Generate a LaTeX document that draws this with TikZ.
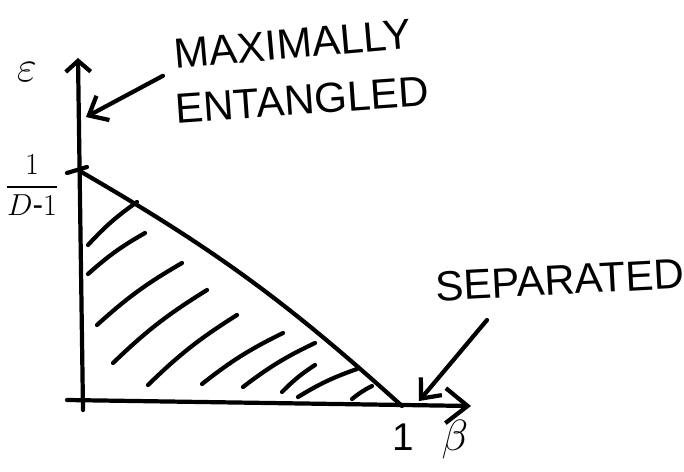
\documentclass[tikz,border=0pt]{standalone}
\usepackage{amsmath}
\usepackage{fontspec}
\setmainfont{Liberation Sans}
\usetikzlibrary{arrows.meta}

\tikzset{
  hand/.style={line width=2.4pt, line cap=round, line join=round},
  pointer/.style={hand, -{Straight Barb[length=3.2mm,width=5.5mm]}},
  caption/.style={font=\fontsize{24}{26}\selectfont, inner sep=0pt},
}

\begin{document}
\begin{tikzpicture}[x=0.02cm,y=-0.02cm]
\useasboundingbox (0,0) rectangle (684,471);

\coordinate (ybot) at (83,410);
\coordinate (ytop) at (78,58);
\coordinate (xleft) at (67,400);
\coordinate (xend) at (471,406);
\coordinate (peak) at (78,170);
\coordinate (one) at (402,406);

\draw[hand, -{Straight Barb[length=2.2mm,width=5mm]}] (ybot) -- (ytop);
\draw[hand, -{Straight Barb[length=4.4mm,width=7mm]}] (xleft) -- (xend);
\draw[hand] (67,173) -- (87,167);

\draw[hand] (peak) to[bend left=6] (one);

\foreach \xa/\ya/\xb/\yb in {88/245/137/202, 88/274/145/233, 97/325/182/263,
    113/363/207/290, 148/385/237/315, 202/384/283/333, 243/387/315/343,
    282/392/315/365, 298/397/357/369, 352/399/372/386}
  \draw[hand] (\xa,\ya) to[bend left=6] (\xb,\yb);

\node[font=\fontsize{30}{32}\selectfont] (eps) at (27,72) {$\varepsilon$};
\node[font=\fontsize{18}{20}\selectfont] (level) at (32,185) {$\dfrac{1}{D\text{-}1}$};
\node[font=\fontsize{22}{24}\selectfont] (onelab) at (403,437) {1};
\node[font=\fontsize{26}{28}\selectfont] (beta) at (455,440) {$\beta$};

\node[caption, rotate=5] (maxi) at (293,44) {MAXIMALLY};
\node[caption, rotate=4] (entl) at (302,100) {ENTANGLED};
\node[caption, rotate=3] (sepa) at (560,280) {SEPARATED};

\coordinate (maxto) at (86,117);
\coordinate (sepfrom) at (487,320);
\coordinate (septo) at (419,401);

\draw[pointer, shorten <=8pt] (maxi.south west) -- (maxto);
\draw[pointer] (sepfrom) -- (septo);
\end{tikzpicture}
\end{document}
